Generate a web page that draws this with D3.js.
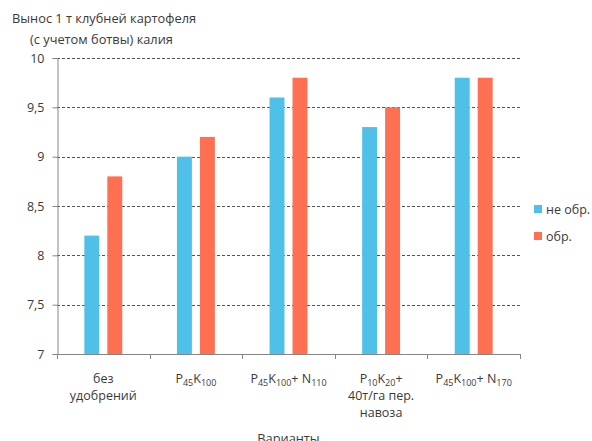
<!DOCTYPE html>
<html>
<head>
<meta charset="utf-8">
<script src="https://cdn.jsdelivr.net/npm/d3@7"></script>
<style>
  html, body { margin: 0; padding: 0; background: #fff; }
  svg { display: block; font-family: "Open Sans", sans-serif; }
</style>
</head>
<body>
<svg id="chart" width="592" height="441"></svg>
<script>
// Category labels: each line is a list of [text, isSubscript] runs
const categories = ["c1", "c2", "c3", "c4", "c5"];
const categoryLabels = [
  [[["без", false]], [["удобрений", false]]],
  [[["P", false], ["45", true], ["K", false], ["100", true]]],
  [[["P", false], ["45", true], ["K", false], ["100", true], ["+ N", false], ["110", true]]],
  [[["P", false], ["10", true], ["K", false], ["20", true], ["+", false]], [["40т/га пер.", false]], [["навоза", false]]],
  [[["P", false], ["45", true], ["K", false], ["100", true], ["+ N", false], ["170", true]]]
];
const seriesNames = ["не обр.", "обр."];
const untreated = [8.2, 9.0, 9.6, 9.3, 9.8];
const treated = [8.8, 9.2, 9.8, 9.5, 9.8];
const yTicks = [7, 7.5, 8, 8.5, 9, 9.5, 10];
const colors = ["#4FC1E9", "#FF7052"];

const svg = d3.select("#chart");
const plotLeft = 57, plotRight = 520, plotTop = 58, plotBottom = 354;
const textColor = "#3a3a3a";

const x = d3.scaleBand().domain(categories).range([plotLeft, plotRight]);
const inner = d3.scaleBand().domain([0, 1]).range([0, x.bandwidth()]).paddingInner(0.35).paddingOuter(1.19);
const y = d3.scaleLinear().domain([7, 10]).range([plotBottom, plotTop]);

// Dashed horizontal gridlines
svg.append("g").selectAll("line").data(yTicks.filter(t => t > 7)).join("line")
  .attr("x1", plotLeft).attr("x2", plotRight)
  .attr("y1", d => Math.round(y(d)) + 0.5).attr("y2", d => Math.round(y(d)) + 0.5)
  .attr("stroke", "#555").attr("stroke-width", 1).attr("stroke-dasharray", "3,2");

// Bars
const series = [untreated, treated];
series.forEach((vals, si) => {
  svg.append("g").selectAll("rect").data(vals).join("rect")
    .attr("x", (d, i) => x(categories[i]) + inner(si))
    .attr("width", inner.bandwidth())
    .attr("y", d => y(d))
    .attr("height", d => y(7) - y(d))
    .attr("fill", colors[si]);
});

// Y axis
const yAxis = svg.append("g").attr("transform", `translate(${plotLeft + 0.5},0)`)
  .call(d3.axisLeft(y).tickValues(yTicks).tickSize(5).tickPadding(8)
    .tickFormat(d => String(d).replace(".", ",")));
yAxis.select(".domain").attr("stroke", "#868686");
yAxis.selectAll(".tick line").attr("stroke", "#868686");
yAxis.selectAll("text").attr("fill", textColor).attr("font-size", 12.5)
  .attr("font-family", "Open Sans, sans-serif");

// X axis line with boundary ticks
const xg = svg.append("g");
xg.append("line").attr("x1", plotLeft).attr("x2", plotRight + 0.5)
  .attr("y1", plotBottom + 0.5).attr("y2", plotBottom + 0.5).attr("stroke", "#868686");
const bounds = categories.map(c => x(c)).concat([plotRight]);
xg.selectAll("line.b").data(bounds).join("line").attr("class", "b")
  .attr("x1", d => Math.round(d) + 0.5).attr("x2", d => Math.round(d) + 0.5)
  .attr("y1", plotBottom).attr("y2", plotBottom + 5).attr("stroke", "#868686");

// Category labels
categories.forEach((c, i) => {
  const cx = x(c) + x.bandwidth() / 2;
  const t = svg.append("text").attr("text-anchor", "middle")
    .attr("fill", textColor).attr("font-size", 12.5);
  categoryLabels[i].forEach((line, li) => {
    line.forEach((run, ri) => {
      const ts = t.append("tspan").text(run[0]);
      if (ri === 0) ts.attr("x", cx).attr("y", 383 + li * 17);
      if (run[1]) ts.attr("font-size", 9).attr("dy", 3);
      else if (ri > 0 && line[ri - 1][1]) ts.attr("dy", -3);
    });
  });
});

// Axis titles
svg.append("text").attr("x", 12).attr("y", 23).attr("fill", textColor)
  .attr("font-size", 12.8).text("Вынос 1 т клубней картофеля");
svg.append("text").attr("x", 30).attr("y", 44).attr("fill", textColor)
  .attr("font-size", 12.8).text("(с учетом ботвы) калия");
svg.append("text").attr("x", (plotLeft + plotRight) / 2).attr("y", 443).attr("text-anchor", "middle")
  .attr("fill", textColor).attr("font-size", 12.8).text("Варианты");

// Legend
const lg = svg.append("g");
seriesNames.forEach((n, i) => {
  const ly = 209 + i * 27;
  lg.append("rect").attr("x", 534).attr("y", ly - 4).attr("width", 8).attr("height", 8).attr("fill", colors[i]);
  lg.append("text").attr("x", 546).attr("y", ly + 4.5).attr("fill", textColor)
    .attr("font-size", 12.5).text(n);
});
</script>
</body>
</html>
